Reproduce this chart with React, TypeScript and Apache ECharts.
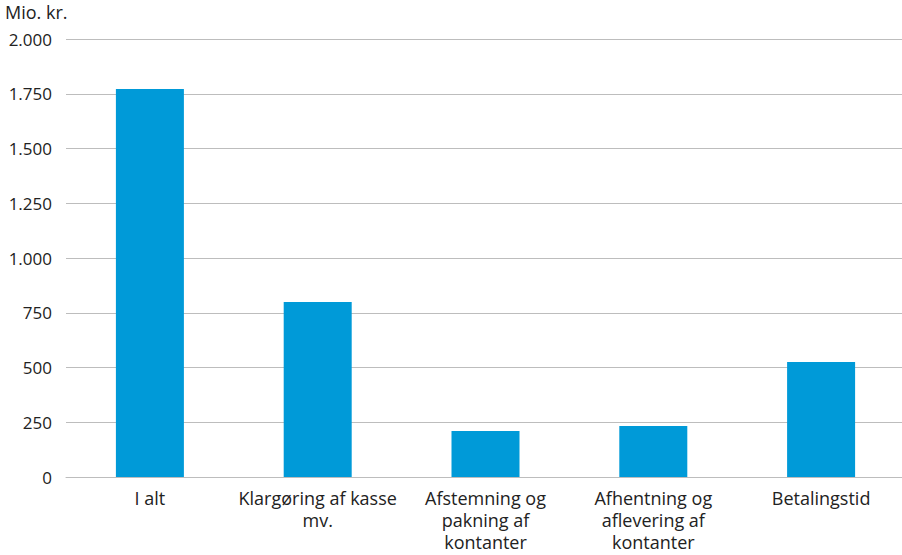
import React, { useEffect, useRef } from "react";
import * as echarts from "echarts";

const categories = [
  "I alt",
  "Klargøring af kasse\nmv.",
  "Afstemning og\npakning af\nkontanter",
  "Afhentning og\naflevering af\nkontanter",
  "Betalingstid",
];
const values = [1772, 799, 210, 233, 525];
const yTicks = [0, 250, 500, 750, 1000, 1250, 1500, 1750, 2000];

const fmt = (v: number) => v.toLocaleString("da-DK").replace(/\s/g, ".");

export default function App() {
  const ref = useRef<HTMLDivElement>(null);
  useEffect(() => {
    if (!ref.current) return;
    const chart = echarts.init(ref.current, undefined, { renderer: "svg" });
    const font = "'Open Sans', 'Noto Sans', sans-serif";
    chart.setOption({
      animation: false,
      grid: { left: 66, right: 1, top: 39, bottom: 78 },
      graphic: [
        {
          type: "text",
          left: 5,
          top: 3,
          style: { text: "Mio. kr.", fontSize: 18, fontFamily: font, fill: "#222" },
        },
      ],
      xAxis: {
        type: "category",
        data: categories,
        axisLine: { lineStyle: { color: "#bdbdbd", width: 1 } },
        axisTick: { inside: true, length: 6, lineStyle: { color: "#bdbdbd" } },
        axisLabel: {
          color: "#222",
          fontSize: 18,
          fontFamily: font,
          lineHeight: 22,
          margin: 10,
          interval: 0,
        },
      },
      yAxis: {
        type: "value",
        min: yTicks[0],
        max: yTicks[yTicks.length - 1],
        interval: 250,
        axisLine: { show: false },
        axisTick: { show: false },
        splitLine: { lineStyle: { color: "#bdbdbd", width: 1 } },
        axisLabel: {
          color: "#222",
          fontSize: 17,
          fontFamily: font,
          margin: 14,
          formatter: (v: number) => fmt(v),
        },
      },
      series: [
        {
          type: "bar",
          data: values,
          barWidth: 68,
          itemStyle: { color: "#009ad8" },
        },
      ],
    });
    return () => chart.dispose();
  }, []);
  return (
    <div
      style={{ position: "absolute", left: 0, top: 0, width: 902, height: 555, overflow: "hidden" }}
    >
      <div ref={ref} style={{ width: 906, height: 555 }} />
    </div>
  );
}
